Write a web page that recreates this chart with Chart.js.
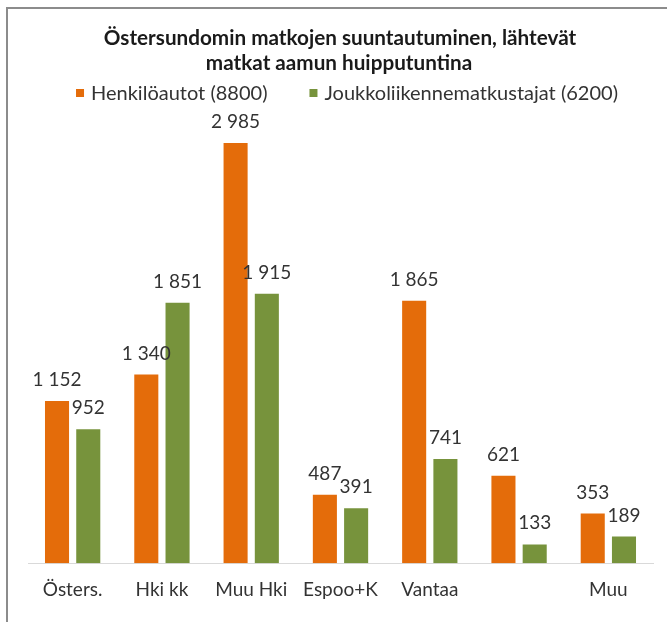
<!DOCTYPE html>
<html>
<head>
<meta charset="utf-8">
<script src="https://cdn.jsdelivr.net/npm/chart.js@4.4.1/dist/chart.umd.min.js"></script>
<style>
  html,body{margin:0;padding:0;background:#fff;}
  #wrap{position:relative;width:667px;height:622px;}
</style>
</head>
<body>
<div id="wrap"><canvas id="c" width="667" height="622"></canvas></div>
<script>
// Östersundom — lähtevät matkat aamun huipputuntina
const categories = ["Östers.", "Hki kk", "Muu Hki", "Espoo+K", "Vantaa", "", "Muu"];
const carTrips = [1152, 1340, 2985, 487, 1865, 621, 353];
const transitTrips = [952, 1851, 1915, 391, 741, 133, 189];
const titleLines = ["Östersundomin matkojen suuntautuminen, lähtevät", "matkat aamun huipputuntina"];
const seriesNames = ["Henkilöautot (8800)", "Joukkoliikennematkustajat (6200)"];
const seriesColors = ["#E46C0A", "#77933C"];

const FONT = "Lato, 'Open Sans', 'Liberation Sans', sans-serif";

function fmtNum(n){ return String(n).replace(/\B(?=(\d{3})+(?!\d))/g, " "); }

// frame + title + legend, drawn by hand to keep the spacing of the original
const decor = {
  id: "decor",
  beforeDraw(chart){
    const ctx = chart.ctx;
    ctx.save();
    ctx.fillStyle = "#fff";
    ctx.fillRect(0, 0, chart.width, chart.height);
    ctx.fillStyle = "#8c8c8c";
    ctx.fillRect(6, 7, chart.width - 6, 2);
    ctx.fillRect(6, 7, 2, chart.height - 7);
    ctx.restore();
  },
  afterDraw(chart){
    const ctx = chart.ctx;
    ctx.save();
    ctx.textAlign = "center";
    ctx.textBaseline = "alphabetic";
    ctx.fillStyle = "#1a1a1a";
    ctx.font = "bold 20.7px " + FONT;
    ctx.fillText(titleLines[0], 340, 45);
    ctx.fillText(titleLines[1], 339, 70);

    // legend
    ctx.font = "20px " + FONT;
    ctx.textAlign = "left";
    const box = 8, gapText = 7, gapItem = 42;
    const widths = seriesNames.map(s => ctx.measureText(s).width);
    const total = widths.reduce((a,w)=>a + box + gapText + w, 0) + gapItem;
    let x = 347 - total/2;
    const yc = 93;
    seriesNames.forEach((s,i)=>{
      ctx.fillStyle = seriesColors[i];
      ctx.fillRect(x, yc - box/2, box, box);
      ctx.fillStyle = "#333";
      ctx.fillText(s, x + box + gapText, yc + 7);
      x += box + gapText + widths[i] + gapItem;
    });
    ctx.restore();
  }
};

// value labels above each bar
const barLabels = {
  id: "barLabels",
  afterDatasetsDraw(chart){
    const ctx = chart.ctx;
    ctx.save();
    ctx.font = "19px " + FONT;
    ctx.fillStyle = "#333";
    ctx.textAlign = "center";
    ctx.textBaseline = "alphabetic";
    chart.data.datasets.forEach((ds, di)=>{
      chart.getDatasetMeta(di).data.forEach((bar, i)=>{
        ctx.fillText(fmtNum(ds.data[i]), bar.x, bar.y - 15);
      });
    });
    ctx.restore();
  }
};

new Chart(document.getElementById("c"), {
  type: "bar",
  data: {
    labels: categories,
    datasets: [
      { label: seriesNames[0], data: carTrips, backgroundColor: seriesColors[0] },
      { label: seriesNames[1], data: transitTrips, backgroundColor: seriesColors[1] }
    ]
  },
  options: {
    responsive: false,
    animation: false,
    devicePixelRatio: 1,
    layout: { padding: { left: 28, right: 14, top: 141, bottom: 6 } },
    datasets: { bar: { categoryPercentage: 0.70, barPercentage: 0.77 } },
    plugins: { legend: { display: false }, title: { display: false }, tooltip: { enabled: false } },
    scales: {
      x: {
        grid: { display: false, drawTicks: false },
        border: { color: "#d9d9d9", width: 1 },
        ticks: { color: "#333", font: { family: FONT, size: 19 }, padding: 15, maxRotation: 0, autoSkip: false }
      },
      y: { display: false, min: 0, max: 3000 }
    }
  },
  plugins: [decor, barLabels]
});
</script>
</body>
</html>
